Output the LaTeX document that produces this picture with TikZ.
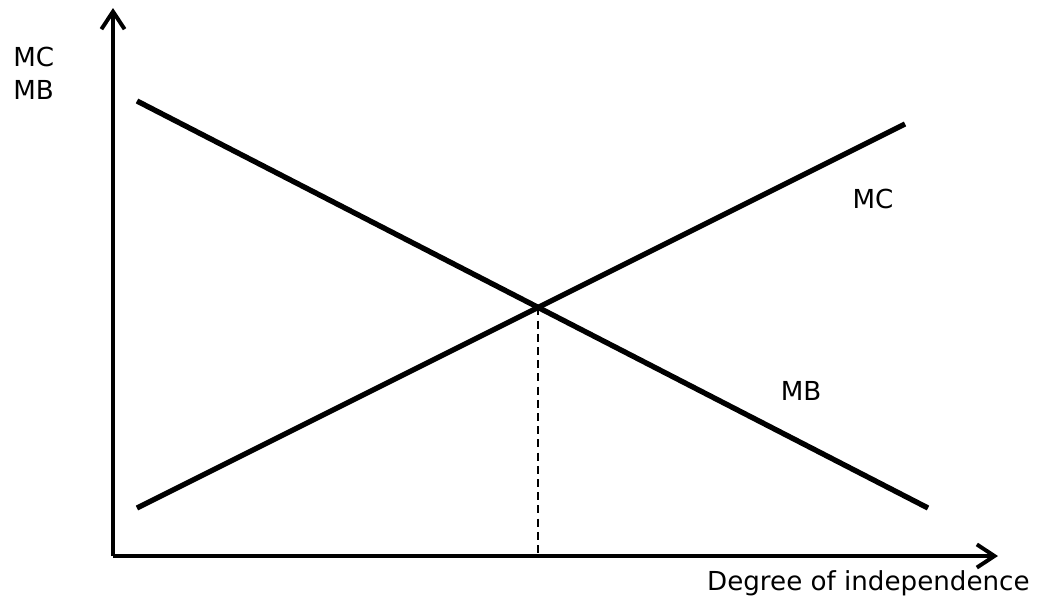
\documentclass[tikz,border=0pt]{standalone}
\usepackage{fontspec}
\setmainfont{DejaVu Sans}
\usetikzlibrary{arrows.meta, positioning}
\tikzstyle{axis} = [line width=2.8pt, -{Straight Barb[length=4.4mm, width=5.8mm, line width=2.8pt]}]
\tikzstyle{curve} = [line width=3.8pt]
\tikzstyle{guide} = [line width=1.3pt, dash pattern=on 2mm off 1.3mm]
\tikzstyle{lbl} = [font=\fontsize{18.6}{23.4}\selectfont, inner sep=0pt]

\begin{document}
\begin{tikzpicture}[x=0.025cm, y=-0.025cm]
    \useasboundingbox (0,0) rectangle (1039,599);
    \coordinate (o) at (113,556);
    \coordinate (ytip) at (113,8);
    \coordinate (xtip) at (998,556);
    \coordinate (mb1) at (137,101);
    \coordinate (mb2) at (928,508);
    \coordinate (mc1) at (137,508);
    \coordinate (mc2) at (905,124);
    \coordinate (eq) at (intersection of mb1--mb2 and mc1--mc2);
    \draw[axis] (o) -- (ytip);
    \draw[axis] (o) -- (xtip);
    \draw[curve] (mb1) -- (mb2);
    \draw[curve] (mc1) -- (mc2);
    \draw[guide] (eq) -- (eq |- o);
    \node[lbl, align=left, anchor=north west] (ylab) at (13,47) {MC\\MB};
    \node[lbl] (mclab) at (873,199) {MC};
    \node[lbl] (mblab) at (801,391) {MB};
    \node[lbl, anchor=east] (xlab) at (1030,583) {Degree of independence};
  \end{tikzpicture}
\end{document}
